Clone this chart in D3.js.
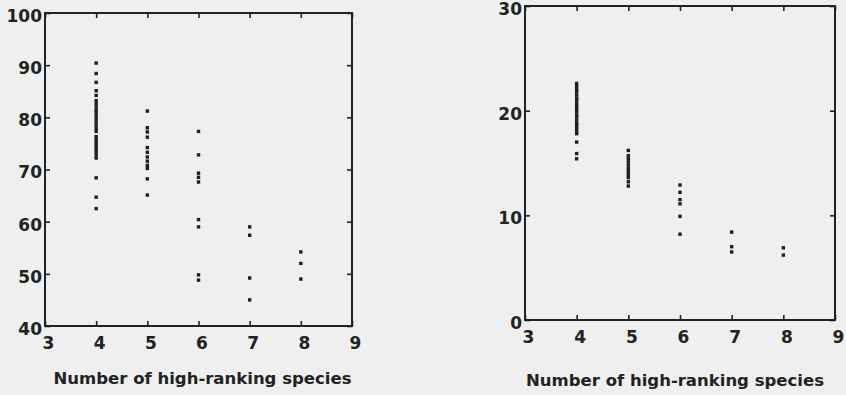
<!DOCTYPE html>
<html>
<head>
<meta charset="utf-8">
<script src="https://cdn.jsdelivr.net/npm/d3@7"></script>
<style>
  body { margin: 0; background: #efefef; }
  svg { display: block; }
  .tick text { font-family: "DejaVu Sans", Verdana, sans-serif; font-weight: bold; font-size: 17px; fill: #222; }
  .tick line { stroke: #222; stroke-width: 1.6; }
  .axisTitle { font-family: "DejaVu Sans", Verdana, sans-serif; font-weight: bold; font-size: 16.5px; fill: #222; }
</style>
</head>
<body>
<svg id="chart" width="846" height="395"></svg>
<script>
// x categories and tick labels (shared by both panels)
const speciesCounts = [4, 5, 6, 7, 8];
const xTickValues = [3, 4, 5, 6, 7, 8, 9];
const xTitle = "Number of high-ranking species";

// left panel: y ticks and values per x category
const leftYTicks = [40, 50, 60, 70, 80, 90, 100];
const leftValues4 = [90.4, 88.4, 86.7, 85.1, 84.2, 83.2, 82.6, 82.0, 81.4, 80.9, 80.3, 79.7, 79.1, 78.5, 77.9, 77.3,
                     76.3, 75.8, 75.2, 74.6, 74.0, 73.4, 72.8, 72.2, 68.4, 64.7, 62.5];
const leftValues5 = [81.2, 78.0, 77.2, 76.2, 74.2, 73.3, 72.4, 71.6, 70.8, 70.2, 68.2, 65.1];
const leftValues6 = [77.3, 72.8, 69.3, 68.5, 67.6, 60.4, 59.0, 49.8, 48.8];
const leftValues7 = [59.0, 57.4, 49.2, 45.0];
const leftValues8 = [54.2, 52.0, 49.0];

// right panel
const rightYTicks = [0, 10, 20, 30];
const rightValues4 = [22.6, 22.3, 22.0, 21.8, 21.5, 21.2, 21.0, 20.7, 20.4, 20.2, 19.9, 19.6, 19.4, 19.1, 18.8,
                      18.6, 18.3, 18.0, 17.8, 17.0, 15.9, 15.4];
const rightValues5 = [16.2, 15.7, 15.4, 15.1, 14.8, 14.5, 14.2, 13.9, 13.6, 13.2, 12.8];
const rightValues6 = [12.9, 12.2, 11.5, 11.1, 9.9, 8.2];
const rightValues7 = [8.4, 7.0, 6.5];
const rightValues8 = [6.9, 6.2];

const toPoints = (cols) => {
    let pts = [];
    cols.forEach((vals, i) => {
        vals.forEach(v => pts.push({x: speciesCounts[i], y: v}));
    });
    return pts;
};

const scatterPanel = (points, yTicks, box) => {
    let svg = d3.select("#chart");
    let x = d3.scaleLinear().domain([3, 9]).range([box.left, box.right]),
        y = d3.scaleLinear().domain([yTicks[0], yTicks[yTicks.length - 1]]).range([box.bottom, box.top]);

    let g = svg.append("g");

    // bottom axis with labels, inward ticks
    let bottom = g.append("g")
        .attr("transform", "translate(0," + box.bottom + ")")
        .call(d3.axisBottom(x).tickValues(xTickValues).tickSize(-5).tickPadding(11).tickFormat(d3.format("d")));
    bottom.selectAll("text").attr("dx", 3).attr("dy", "0.71em");

    // left axis with labels, inward ticks
    let left = g.append("g")
        .attr("transform", "translate(" + box.left + ",0)")
        .call(d3.axisLeft(y).tickValues(yTicks).tickSize(-5).tickPadding(3));
    left.selectAll("text").attr("y", 3);

    // top and right: ticks only
    g.append("g")
        .attr("transform", "translate(0," + box.top + ")")
        .call(d3.axisTop(x).tickValues(xTickValues).tickSize(-5).tickFormat(""));
    g.append("g")
        .attr("transform", "translate(" + box.right + ",0)")
        .call(d3.axisRight(y).tickValues(yTicks).tickSize(-5).tickFormat(""));

    g.selectAll(".domain").remove();

    // frame
    g.append("rect")
        .attr("x", box.left).attr("y", box.top)
        .attr("width", box.right - box.left).attr("height", box.bottom - box.top)
        .attr("fill", "none").attr("stroke", "#222").attr("stroke-width", 2);

    // points as small squares
    let s = 3.4;
    g.selectAll(".pt")
        .data(points)
        .enter()
        .append("rect")
        .attr("class", "pt")
        .attr("x", d => x(d.x) - s / 2)
        .attr("y", d => y(d.y) - s / 2)
        .attr("width", s).attr("height", s)
        .attr("fill", "#1e1e1e");

    g.append("text")
        .attr("class", "axisTitle")
        .attr("x", (box.left + box.right) / 2 + box.titleDx)
        .attr("y", box.titleY)
        .attr("text-anchor", "middle")
        .text(xTitle);
};

scatterPanel(toPoints([leftValues4, leftValues5, leftValues6, leftValues7, leftValues8]), leftYTicks,
    {left: 45, right: 352, top: 13, bottom: 326, titleY: 384, titleDx: 4});
scatterPanel(toPoints([rightValues4, rightValues5, rightValues6, rightValues7, rightValues8]), rightYTicks,
    {left: 525, right: 835, top: 6, bottom: 320, titleY: 386, titleDx: -5});
</script>
</body>
</html>
